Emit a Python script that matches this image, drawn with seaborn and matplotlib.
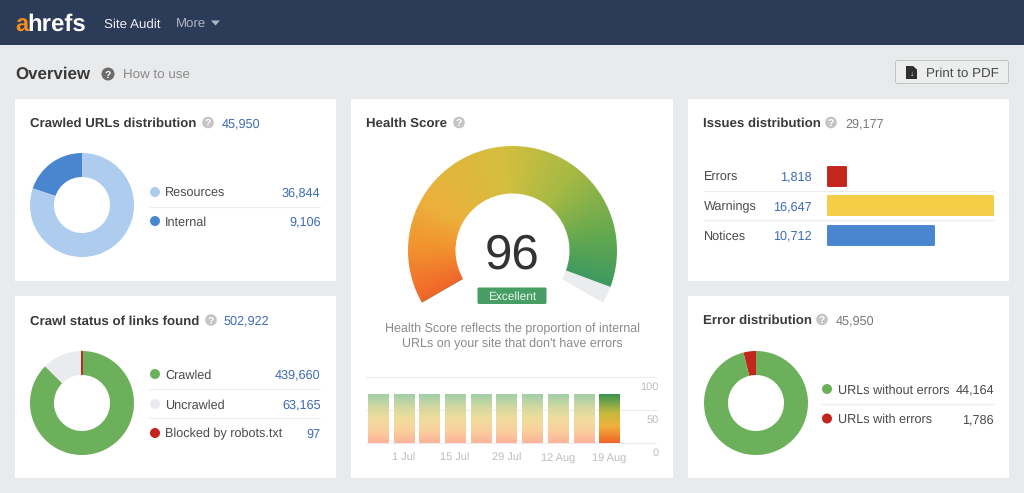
import numpy as np
import pandas as pd
import seaborn as sns
import matplotlib
matplotlib.use("Agg")
import matplotlib.pyplot as plt
from matplotlib.colors import LinearSegmentedColormap as LSC
from matplotlib.patches import Rectangle, Circle, FancyBboxPatch, Polygon
from matplotlib.transforms import ScaledTranslation

# ---------- data ----------
crawled_labels = ["Internal", "Resources"]
crawled_values = [9106, 36844]
crawled_total = "45,950"
status_labels = ["Blocked by robots.txt", "Uncrawled", "Crawled"]
status_values = [97, 63165, 439660]
status_total = "502,922"
error_labels = ["URLs with errors", "URLs without errors"]
error_values = [1786, 44164]
error_total = "45,950"
issue_labels = ["Errors", "Warnings", "Notices"]
issue_values = [1818, 16647, 10712]
issue_total = "29,177"
health_score = 96
history_pos = list(range(10))
history_values = [74, 74, 74, 74, 74, 74, 74, 74, 74, 74]
history_ticks = [1, 3, 5, 7, 9]
history_ticklabels = ["1 Jul", "15 Jul", "29 Jul", "12 Aug", "19 Aug"]
history_yticks = [0, 50, 100]

# ---------- style ----------
sns.set_theme(style="white")
plt.rcParams["font.family"] = ["Liberation Sans", "DejaVu Sans"]
plt.rcParams["text.hinting"] = "no_hinting"
NAVY, BG, WHITE = "#2c3b58", "#e9eaec", "#ffffff"
DARK, MID, LIGHT, BLUE = "#3a3a3a", "#8a8a8a", "#c4c4c4", "#3f6cb3"
SEP = "#ececec"
LBLUE, DBLUE, GREEN, GRAY, RED, YELLOW = "#aecdee", "#4a86d0", "#6cb05c", "#e9ebee", "#c4261d", "#f5cd47"
BODY, TITLE = 9.05, 9.5

W, H = 1024, 493
fig = plt.figure(figsize=(W / 100, H / 100), dpi=100, facecolor=BG)
bg = fig.add_axes([0, 0, 1, 1], zorder=0)
bg.set_xlim(0, W); bg.set_ylim(H, 0); bg.axis("off")

def px_axes(x0, y0, x1, y1):
    ax = fig.add_axes([x0 / W, 1 - y1 / H, (x1 - x0) / W, (y1 - y0) / H], zorder=2)
    ax.patch.set_alpha(0)
    return ax

def T(x, y, s, size=BODY, color=DARK, weight="normal", ha="left", zorder=5):
    # y is the vertical centre of capitals and digits; the baseline stays common across texts
    base = y + 0.358 * size * 100 / 72
    return bg.text(x, base, s, fontsize=size, color=color, fontweight=weight, ha=ha,
                   va="baseline", zorder=zorder)

def help_icon(x, y, r=5.8, color=LIGHT):
    bg.add_patch(Circle((x, y), r, fc=color, ec="none", zorder=4))
    T(x, y, "?", size=7.5, color=WHITE, weight="bold", ha="center")

def sep(x0, x1, y):
    bg.plot([x0, x1], [y, y], color=SEP, lw=0.8, zorder=3)

def donut(cx, cy, values, colors):
    ax = px_axes(cx - 52, cy - 52, cx + 52, cy + 52)
    wedges, _ = ax.pie(values, colors=colors, startangle=90, counterclock=True, radius=1,
                       wedgeprops=dict(width=24 / 52, linewidth=0))
    ax.set_xlim(-1, 1); ax.set_ylim(-1, 1)
    return wedges

def legend_row(x_dot, x_text, x_val, y, label, value, color, val_color=BLUE):
    bg.add_patch(Circle((x_dot, y), 5, fc=color, ec="none", zorder=4))
    T(x_text, y, label, color="#4a4a4a")
    T(x_val, y, f"{value:,}", color=val_color, ha="right")

# ---------- page chrome ----------
bg.add_patch(Rectangle((0, 0), W, 45, fc=NAVY, ec="none"))
T(15, 23, "a", size=17, color="#f68b1f", weight="bold")
T(27, 22.5, "hrefs", size=17.3, color=WHITE, weight="bold")
T(104, 23, "Site Audit", size=9.6, color="#eef0f3")
T(176, 23, "More", size=9.5, color="#aeb5c2")
bg.add_patch(Polygon([[211, 20.5], [220, 20.5], [215.5, 25.5]], fc="#aeb5c2", ec="none"))
T(15, 73, "Overview", size=12.2, weight="bold")
help_icon(108, 74, 6.5, "#6b6b6b")
T(123, 74, "How to use", size=9.6, color=MID)
bg.add_patch(FancyBboxPatch((895.5, 60.5), 113, 23, boxstyle="round,pad=0,rounding_size=2",
                            fc="#eceded", ec="#c2c2c2", lw=0.7))
bg.add_patch(Polygon([[906, 66], [913, 66], [917, 69.5], [917, 79], [906, 79]], fc="#2f2f2f", ec="none"))
T(911.5, 73, "↓", size=6, color=WHITE, weight="bold", ha="center", zorder=6)
T(926, 72, "Print to PDF", size=9.6, color="#4a4a4a")

for x0, y0, x1, y1 in [(15, 99, 336, 281), (15, 296, 336, 478), (351, 99, 673, 478),
                       (688, 99, 1009, 281), (688, 296, 1009, 478)]:
    bg.add_patch(Rectangle((x0, y0), x1 - x0, y1 - y0, fc=WHITE, ec="none", zorder=1))

# ---------- crawled urls ----------
T(30, 122.5, "Crawled URLs distribution", size=TITLE, weight="bold")
help_icon(208, 122.5); T(221.5, 122.5, crawled_total, color=BLUE)
donut(82, 205, crawled_values, [DBLUE, LBLUE])
legend_row(155, 165, 320.5, 192, crawled_labels[1], crawled_values[1], LBLUE)
sep(149, 320, 207)
legend_row(155, 165, 320.5, 221, crawled_labels[0], crawled_values[0], DBLUE)

# ---------- crawl status ----------
T(30, 320, "Crawl status of links found", size=TITLE, weight="bold")
help_icon(211, 320); T(224, 320, status_total, color=BLUE)
status_wedges = donut(82, 403, status_values, [RED, GRAY, GREEN])
status_wedges[0].set_edgecolor(RED); status_wedges[0].set_linewidth(0.7); status_wedges[0].set_zorder(5)
legend_row(155, 165, 320.5, 374, status_labels[2], status_values[2], GREEN)
sep(149, 320, 389)
legend_row(155, 165, 320.5, 404, status_labels[1], status_values[1], GRAY)
sep(149, 320, 418)
legend_row(155, 165, 320.5, 433, status_labels[0], status_values[0], RED)

# ---------- health score gauge ----------
T(366, 122.5, "Health Score", size=TITLE, weight="bold")
help_icon(459, 122.5)
R = 104.5
gx, gy = 512.5, 250.5
g = px_axes(gx - R, gy - R, gx + R, gy + R)
span_hidden = 100 / 240 * 120
wedges, _ = g.pie([health_score, 100 - health_score, span_hidden],
                  colors=["#ffffff", "#ebecee", "none"], startangle=210, counterclock=False,
                  radius=1, wedgeprops=dict(width=1 - 57 / R, linewidth=0))
g.set_xlim(-1, 1); g.set_ylim(-1, 1)
gauge_cmap = LSC.from_list("gauge", [(0, "#f0652a"), (0.125, "#f28f2e"), (0.25, "#ecb03b"),
                                     (0.5, "#d3bf3f"), (0.69, "#a5b944"), (0.875, "#62a850"),
                                     (1, "#3f9a60")])
xx, yy = np.meshgrid(np.linspace(-1, 1, 600), np.linspace(-1, 1, 600))
ang = (210 - np.degrees(np.arctan2(yy, xx))) % 360 / 230.4
im = g.imshow(ang, extent=(-1, 1, -1, 1), origin="lower", cmap=gauge_cmap, vmin=0, vmax=1,
              zorder=2, aspect="auto")
im.set_clip_path(wedges[0])
g.set_xlim(-1, 1); g.set_ylim(-1, 1)
T(512, 250.5, str(health_score), size=35.5, color="#333333", ha="center")
bg.add_patch(FancyBboxPatch((477.5, 287.5), 69, 16.5, boxstyle="round,pad=0,rounding_size=1.5",
                            fc="#469e64", ec="none", zorder=3))
T(512, 296, "Excellent", size=8.6, color="#e9f4ec", ha="center")
T(512, 328, "Health Score reflects the proportion of internal", size=9.0, color=MID, ha="center")
T(512, 343, "URLs on your site that don't have errors", size=9.0, color=MID, ha="center")

# ---------- health history ----------
h = px_axes(366, 377, 656, 443)
hist_df = pd.DataFrame({"pos": history_pos, "score": history_values})
sns.barplot(data=hist_df, x="pos", y="score", native_scale=True, width=0.78, color="#ffffff",
            saturation=1, ax=h, zorder=3)
h.set_xlim(-0.467, 10.82); h.set_ylim(0, 100)
fade = LSC.from_list("fade", [(0, "#fdb398"), (0.25, "#fbd0a0"), (0.5, "#efdd9c"),
                              (0.72, "#d6d9a0"), (1, "#a0cfa9")])
solid = LSC.from_list("solid", [(0, "#f0652a"), (0.35, "#f0b23a"), (0.62, "#c4ba3e"), (1, "#3a9350")])
grad = np.linspace(0, 1, 64).reshape(-1, 1)
bars = list(h.patches)
for i, b in enumerate(bars):
    x, w, ht = b.get_x(), b.get_width(), b.get_height()
    img = h.imshow(grad, extent=(x, x + w, 0, ht), origin="lower", aspect="auto",
                   cmap=solid if i == len(bars) - 1 else fade, zorder=4)
    img.set_clip_path(b)
h.set_xlim(-0.467, 10.82); h.set_ylim(0, 100)
h.set_xlabel(""); h.set_ylabel("")
h.set_xticks(history_ticks, history_ticklabels)
h.yaxis.tick_right()
h.set_yticks(history_yticks, [str(v) for v in history_yticks])
h.grid(axis="y", color="#ebebeb", lw=0.8)
h.set_axisbelow(True)
for ln in h.get_ygridlines():
    ln.set_clip_on(False)
h.tick_params(axis="both", length=0, labelsize=7.9, labelcolor="#bcbcbc")
h.tick_params(axis="x", pad=13)
h.tick_params(axis="y", pad=2)
for lab in h.get_xticklabels():
    lab.set_va("baseline")
shift = ScaledTranslation(0, -9 / 100, fig.dpi_scale_trans)
for lab in h.get_yticklabels():
    lab.set_ha("right")
    lab.set_transform(lab.get_transform() + shift)
sns.despine(ax=h, left=True, right=True, top=True, bottom=True)

# ---------- issues ----------
T(703, 122.5, "Issues distribution", size=TITLE, weight="bold")
help_icon(831, 122.5); T(845, 122.5, issue_total, color="#7a7a7a")
iss = px_axes(828, 161.5, 993, 250)
iss_df = pd.DataFrame({"label": issue_labels, "value": issue_values})
sns.barplot(data=iss_df, y="label", x="value", hue="label", palette=[RED, YELLOW, DBLUE],
            saturation=1, legend=False, width=0.66, ax=iss, zorder=2)
for b in iss.patches:
    b.set_edgecolor(b.get_facecolor()); b.set_linewidth(1.4); b.set_joinstyle("round"); b.set_clip_on(False)
iss.set_xlim(0, issue_values[1]); iss.axis("off")
for lab, val, y in zip(issue_labels, issue_values, [176, 205.5, 235]):
    T(704, y, lab, color="#4a4a4a")
    T(812, y, f"{val:,}", color=BLUE, ha="right")
sep(704, 994, 190.5); sep(704, 994, 220)

# ---------- error distribution ----------
T(703, 319.5, "Error distribution", size=TITLE, weight="bold")
help_icon(822, 319.5); T(836, 319.5, error_total, color="#7a7a7a")
donut(756, 403, error_values, [RED, GREEN])
legend_row(827, 838.5, 994, 389, error_labels[1], error_values[1], GREEN, val_color="#4a4a4a")
sep(821, 994, 404)
legend_row(827, 838.5, 994, 418.5, error_labels[0], error_values[0], RED, val_color="#4a4a4a")

fig.savefig("out.png", dpi=100, facecolor=BG)
